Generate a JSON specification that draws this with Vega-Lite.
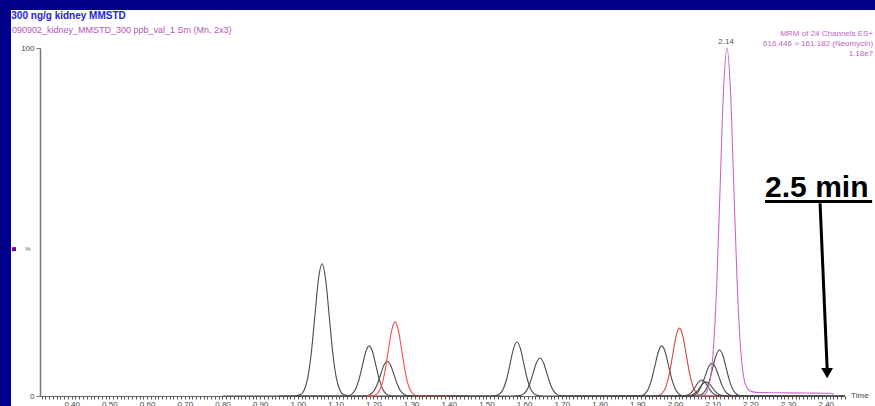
{
  "$schema": "https://vega.github.io/schema/vega-lite/v6.json",
  "width": 805,
  "height": 348,
  "autosize": {"type": "none"},
  "padding": {"left": 40, "top": 48, "right": 30, "bottom": 10},
  "background": "white",
  "config": {"view": {"stroke": null}, "font": "Liberation Sans"},
  "datasets": {
    "traces": [
      {"c":"a1","t":0.80,"v":0},{"c":"a1","t":0.99,"v":0},{"c":"a1","t":1.007,"v":0.42},{"c":"a1","t":1.0165,"v":1.67},{"c":"a1","t":1.026,"v":5.14},{"c":"a1","t":1.0355,"v":12.34},{"c":"a1","t":1.045,"v":23.05},{"c":"a1","t":1.0545,"v":33.54},{"c":"a1","t":1.064,"v":38},{"c":"a1","t":1.0735,"v":33.54},{"c":"a1","t":1.083,"v":23.05},{"c":"a1","t":1.0925,"v":12.34},{"c":"a1","t":1.102,"v":5.14},{"c":"a1","t":1.1115,"v":1.67},{"c":"a1","t":1.121,"v":0.42},{"c":"a1","t":1.14,"v":0},{"c":"a1","t":1.30,"v":0},
      {"c":"a2","t":0.95,"v":0},{"c":"a2","t":1.12,"v":0},{"c":"a2","t":1.135,"v":0.16},{"c":"a2","t":1.144,"v":0.63},{"c":"a2","t":1.153,"v":1.95},{"c":"a2","t":1.162,"v":4.68},{"c":"a2","t":1.171,"v":8.73},{"c":"a2","t":1.180,"v":12.71},{"c":"a2","t":1.189,"v":14.4},{"c":"a2","t":1.198,"v":12.71},{"c":"a2","t":1.207,"v":8.73},{"c":"a2","t":1.216,"v":4.68},{"c":"a2","t":1.225,"v":1.95},{"c":"a2","t":1.234,"v":0.63},{"c":"a2","t":1.243,"v":0.16},{"c":"a2","t":1.26,"v":0},{"c":"a2","t":1.40,"v":0},
      {"c":"a3","t":1.00,"v":0},{"c":"a3","t":1.17,"v":0},{"c":"a3","t":1.183,"v":0.11},{"c":"a3","t":1.192,"v":0.44},{"c":"a3","t":1.201,"v":1.35},{"c":"a3","t":1.210,"v":3.25},{"c":"a3","t":1.219,"v":6.07},{"c":"a3","t":1.228,"v":8.83},{"c":"a3","t":1.237,"v":10},{"c":"a3","t":1.246,"v":8.83},{"c":"a3","t":1.255,"v":6.07},{"c":"a3","t":1.264,"v":3.25},{"c":"a3","t":1.273,"v":1.35},{"c":"a3","t":1.282,"v":0.44},{"c":"a3","t":1.291,"v":0.11},{"c":"a3","t":1.31,"v":0},{"c":"a3","t":1.45,"v":0},
      {"c":"r1","t":1.18,"v":0},{"c":"r1","t":1.19,"v":0},{"c":"r1","t":1.2036,"v":0.24},{"c":"r1","t":1.2126,"v":0.94},{"c":"r1","t":1.2216,"v":2.88},{"c":"r1","t":1.2306,"v":6.92},{"c":"r1","t":1.2396,"v":12.92},{"c":"r1","t":1.2486,"v":18.8},{"c":"r1","t":1.2576,"v":21.3},{"c":"r1","t":1.2666,"v":18.8},{"c":"r1","t":1.2756,"v":12.92},{"c":"r1","t":1.2846,"v":6.92},{"c":"r1","t":1.2936,"v":2.88},{"c":"r1","t":1.3026,"v":0.94},{"c":"r1","t":1.3116,"v":0.24},{"c":"r1","t":1.33,"v":0},{"c":"r1","t":1.42,"v":0},
      {"c":"a4","t":1.30,"v":0},{"c":"a4","t":1.51,"v":0},{"c":"a4","t":1.527,"v":0.17},{"c":"a4","t":1.536,"v":0.68},{"c":"a4","t":1.545,"v":2.1},{"c":"a4","t":1.554,"v":5.03},{"c":"a4","t":1.563,"v":9.4},{"c":"a4","t":1.572,"v":13.68},{"c":"a4","t":1.581,"v":15.5},{"c":"a4","t":1.590,"v":13.68},{"c":"a4","t":1.599,"v":9.4},{"c":"a4","t":1.608,"v":5.03},{"c":"a4","t":1.617,"v":2.1},{"c":"a4","t":1.626,"v":0.68},{"c":"a4","t":1.635,"v":0.17},{"c":"a4","t":1.65,"v":0},{"c":"a4","t":1.80,"v":0},
      {"c":"a5","t":1.40,"v":0},{"c":"a5","t":1.57,"v":0},{"c":"a5","t":1.588,"v":0.12},{"c":"a5","t":1.597,"v":0.48},{"c":"a5","t":1.606,"v":1.47},{"c":"a5","t":1.615,"v":3.54},{"c":"a5","t":1.624,"v":6.61},{"c":"a5","t":1.633,"v":9.62},{"c":"a5","t":1.642,"v":10.9},{"c":"a5","t":1.651,"v":9.62},{"c":"a5","t":1.660,"v":6.61},{"c":"a5","t":1.669,"v":3.54},{"c":"a5","t":1.678,"v":1.47},{"c":"a5","t":1.687,"v":0.48},{"c":"a5","t":1.696,"v":0.12},{"c":"a5","t":1.71,"v":0},{"c":"a5","t":1.90,"v":0},
      {"c":"a6","t":1.70,"v":0},{"c":"a6","t":1.895,"v":0},{"c":"a6","t":1.911,"v":0.16},{"c":"a6","t":1.920,"v":0.63},{"c":"a6","t":1.929,"v":1.95},{"c":"a6","t":1.938,"v":4.68},{"c":"a6","t":1.947,"v":8.73},{"c":"a6","t":1.956,"v":12.71},{"c":"a6","t":1.965,"v":14.4},{"c":"a6","t":1.974,"v":12.71},{"c":"a6","t":1.983,"v":8.73},{"c":"a6","t":1.992,"v":4.68},{"c":"a6","t":2.001,"v":1.95},{"c":"a6","t":2.010,"v":0.63},{"c":"a6","t":2.019,"v":0.16},{"c":"a6","t":2.035,"v":0},{"c":"a6","t":2.30,"v":0},
      {"c":"r2","t":1.94,"v":0},{"c":"r2","t":1.958,"v":0.22},{"c":"r2","t":1.967,"v":0.86},{"c":"r2","t":1.976,"v":2.64},{"c":"r2","t":1.985,"v":6.33},{"c":"r2","t":1.994,"v":11.83},{"c":"r2","t":2.003,"v":17.21},{"c":"r2","t":2.012,"v":19.5},{"c":"r2","t":2.021,"v":17.21},{"c":"r2","t":2.030,"v":11.83},{"c":"r2","t":2.039,"v":6.33},{"c":"r2","t":2.048,"v":2.64},{"c":"r2","t":2.057,"v":0.86},{"c":"r2","t":2.066,"v":0.22},{"c":"r2","t":2.08,"v":0},{"c":"r2","t":2.20,"v":0},
      {"c":"a7","t":1.80,"v":0},{"c":"a7","t":2.01,"v":0},{"c":"a7","t":2.023,"v":0.05},{"c":"a7","t":2.031,"v":0.2},{"c":"a7","t":2.039,"v":0.62},{"c":"a7","t":2.047,"v":1.49},{"c":"a7","t":2.055,"v":2.79},{"c":"a7","t":2.063,"v":4.06},{"c":"a7","t":2.071,"v":4.6},{"c":"a7","t":2.079,"v":4.06},{"c":"a7","t":2.087,"v":2.79},{"c":"a7","t":2.095,"v":1.49},{"c":"a7","t":2.103,"v":0.62},{"c":"a7","t":2.111,"v":0.2},{"c":"a7","t":2.119,"v":0.05},{"c":"a7","t":2.13,"v":0},{"c":"a7","t":2.451,"v":0},
      {"c":"a8","t":1.85,"v":0},{"c":"a8","t":2.02,"v":0},{"c":"a8","t":2.034,"v":0.04},{"c":"a8","t":2.042,"v":0.18},{"c":"a8","t":2.050,"v":0.54},{"c":"a8","t":2.058,"v":1.3},{"c":"a8","t":2.066,"v":2.43},{"c":"a8","t":2.074,"v":3.53},{"c":"a8","t":2.0825,"v":4.0},{"c":"a8","t":2.091,"v":3.53},{"c":"a8","t":2.099,"v":2.43},{"c":"a8","t":2.107,"v":1.3},{"c":"a8","t":2.115,"v":0.54},{"c":"a8","t":2.123,"v":0.18},{"c":"a8","t":2.131,"v":0.04},{"c":"a8","t":2.145,"v":0},{"c":"a8","t":2.40,"v":0},
      {"c":"a9","t":1.90,"v":0},{"c":"a9","t":2.03,"v":0},{"c":"a9","t":2.044,"v":0.1},{"c":"a9","t":2.053,"v":0.41},{"c":"a9","t":2.062,"v":1.27},{"c":"a9","t":2.071,"v":3.05},{"c":"a9","t":2.080,"v":5.7},{"c":"a9","t":2.089,"v":8.3},{"c":"a9","t":2.098,"v":9.4},{"c":"a9","t":2.107,"v":8.3},{"c":"a9","t":2.116,"v":5.7},{"c":"a9","t":2.125,"v":3.05},{"c":"a9","t":2.134,"v":1.27},{"c":"a9","t":2.143,"v":0.41},{"c":"a9","t":2.152,"v":0.1},{"c":"a9","t":2.17,"v":0},{"c":"a9","t":2.451,"v":0},
      {"c":"b1","t":2.00,"v":0},{"c":"b1","t":2.05,"v":0},{"c":"b1","t":2.064,"v":0.15},{"c":"b1","t":2.073,"v":0.58},{"c":"b1","t":2.082,"v":1.79},{"c":"b1","t":2.091,"v":4.29},{"c":"b1","t":2.100,"v":8.01},{"c":"b1","t":2.109,"v":11.65},{"c":"b1","t":2.118,"v":13.2},{"c":"b1","t":2.127,"v":11.65},{"c":"b1","t":2.136,"v":8.01},{"c":"b1","t":2.145,"v":4.29},{"c":"b1","t":2.154,"v":1.79},{"c":"b1","t":2.163,"v":0.58},{"c":"b1","t":2.172,"v":0.15},{"c":"b1","t":2.19,"v":0},{"c":"b1","t":2.451,"v":0},
      {"c":"z","t":2.06,"v":0},{"c":"z","t":2.075,"v":0.2},{"c":"z","t":2.084,"v":1.11},{"c":"z","t":2.093,"v":4.39},{"c":"z","t":2.102,"v":13.53},{"c":"z","t":2.111,"v":32.47},{"c":"z","t":2.120,"v":60.65},{"c":"z","t":2.129,"v":88.25},{"c":"z","t":2.138,"v":100},{"c":"z","t":2.147,"v":88.25},{"c":"z","t":2.156,"v":60.65},{"c":"z","t":2.165,"v":32.47},{"c":"z","t":2.174,"v":13.8},{"c":"z","t":2.183,"v":5.0},{"c":"z","t":2.192,"v":2.2},{"c":"z","t":2.20,"v":1.4},{"c":"z","t":2.215,"v":1.05},{"c":"z","t":2.25,"v":0.95},{"c":"z","t":2.30,"v":0.9},{"c":"z","t":2.35,"v":0.85},{"c":"z","t":2.40,"v":0.8},{"c":"z","t":2.415,"v":0.8},{"c":"z","t":2.425,"v":0}
    ]
  },
  "encoding": {
    "x": {
      "field": "t", "type": "quantitative",
      "scale": {"domain": [0.316, 2.451], "nice": false, "zero": false},
      "axis": {
        "title": null, "grid": false, "tickCount": 214,
        "labelExpr": "round(datum.value*100) % 10 == 0 ? format(datum.value, '.2f') : ''",
        "labelOverlap": false, "labelFlush": false, "labelFontSize": 8, "labelColor": "#444",
        "labelPadding": 1, "tickSize": 3, "tickColor": "#555", "domainColor": "#666"
      }
    },
    "y": {
      "field": "v", "type": "quantitative",
      "scale": {"domain": [0, 100], "nice": false},
      "axis": {
        "title": null, "grid": false, "values": [0, 100], "format": "d",
        "labelFontSize": 8, "labelColor": "#444", "labelPadding": 2,
        "tickSize": 4, "tickColor": "#777", "domainColor": "#777", "domainWidth": 1.5
      }
    }
  },
  "layer": [
    {
      "data": {"values": [
        {"t": 0.20, "t2": 0.2391, "v": -5, "v2": 115},
        {"t": 0.20, "t2": 2.54, "v": 110.9, "v2": 115}
      ]},
      "mark": {"type": "rect", "color": "#000088"},
      "encoding": {"x2": {"field": "t2"}, "y2": {"field": "v2"}}
    },
    {
      "data": {"name": "traces"},
      "mark": {"type": "line", "interpolate": "monotone", "strokeWidth": 1.1},
      "encoding": {
        "color": {
          "field": "c", "type": "nominal", "legend": null,
          "scale": {
            "domain": ["a1","a2","a3","r1","a4","a5","a6","r2","a7","a8","a9","b1","z"],
            "range": ["#4a4a4a","#4a4a4a","#4a4a4a","#ff4a4a","#4a4a4a","#4a4a4a","#4a4a4a","#d04a40","#4a4a4a","#4a4a4a","#4a4a4a","#4a4a4a","#cc66cc"]
          }
        }
      }
    },
    {
      "data": {"values": [
        {"t": 2.2391, "t2": 2.5229, "v": 55.9, "v2": 55.9},
        {"t": 2.3849, "t2": 2.4036, "v": 55.4, "v2": 8}
      ]},
      "mark": {"type": "rule", "color": "black", "strokeWidth": 3},
      "encoding": {"x2": {"field": "t2"}, "y2": {"field": "v2"}}
    },
    {
      "data": {"values": [{"t": 2.4036, "v": 6.6}]},
      "mark": {"type": "point", "shape": "triangle-down", "size": 140, "filled": true, "color": "black", "opacity": 1}
    },
    {
      "data": {"values": [{"t": 0.247, "v": 42.2}]},
      "mark": {"type": "square", "size": 16, "color": "#800080", "opacity": 1}
    },
    {
      "data": {"values": [{"t": 0.2842, "v": 42.2, "label": "%"}]},
      "mark": {"type": "text", "fontSize": 6, "color": "#555", "align": "center", "baseline": "middle"},
      "encoding": {"text": {"field": "label"}}
    },
    {
      "data": {"values": [{"t": 0.2399, "v": 108.3, "label": "300 ng/g kidney MMSTD"}]},
      "mark": {"type": "text", "fontSize": 10, "fontWeight": "bold", "color": "#2323d8", "align": "left", "baseline": "alphabetic"},
      "encoding": {"text": {"field": "label"}}
    },
    {
      "data": {"values": [{"t": 0.2417, "v": 104.3, "label": "090902_kidney_MMSTD_300 ppb_val_1 Sm (Mn, 2x3)"}]},
      "mark": {"type": "text", "fontSize": 9, "color": "#b455b4", "align": "left", "baseline": "alphabetic"},
      "encoding": {"text": {"field": "label"}}
    },
    {
      "data": {"values": [
        {"t": 2.5256, "v": 103.5, "label": "MRM of 24 Channels ES+"},
        {"t": 2.5256, "v": 100.6, "label": "616.446 > 161.182 (Neomycin)"},
        {"t": 2.5256, "v": 97.7, "label": "1.18e7"}
      ]},
      "mark": {"type": "text", "fontSize": 8, "color": "#c463c4", "align": "right", "baseline": "alphabetic"},
      "encoding": {"text": {"field": "label"}}
    },
    {
      "data": {"values": [{"t": 2.1356, "v": 101.1, "label": "2.14"}]},
      "mark": {"type": "text", "fontSize": 8, "color": "#555", "align": "center", "baseline": "alphabetic"},
      "encoding": {"text": {"field": "label"}}
    },
    {
      "data": {"values": [{"t": 2.4672, "v": 0, "label": "Time"}]},
      "mark": {"type": "text", "fontSize": 8, "color": "#444", "align": "left", "baseline": "middle"},
      "encoding": {"text": {"field": "label"}}
    },
    {
      "data": {"values": [{"t": 2.2391, "v": 57.2, "label": "2.5 min"}]},
      "mark": {"type": "text", "fontSize": 30, "fontWeight": "bold", "color": "black", "align": "left", "baseline": "alphabetic"},
      "encoding": {"text": {"field": "label"}}
    }
  ]
}
